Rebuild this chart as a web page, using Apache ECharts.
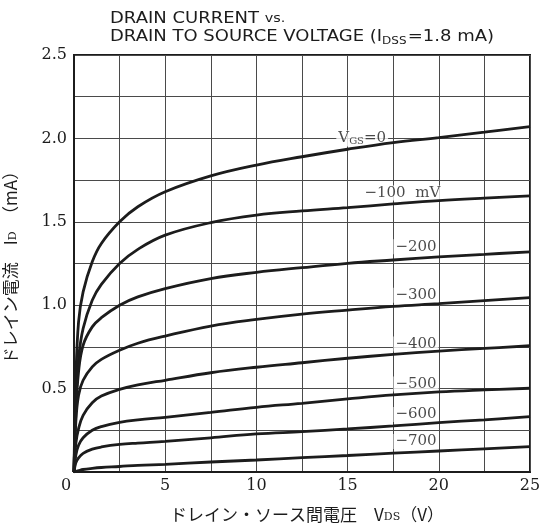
<!DOCTYPE html>
<html>
<head>
<meta charset="utf-8">
<script src="https://cdn.jsdelivr.net/npm/echarts@6/dist/echarts.min.js"></script>
<style>
  html, body { margin: 0; padding: 0; background: #fff; }
  #chart { width: 539px; height: 531px; }
</style>
</head>
<body>
<div id="chart"></div>
<script>
// Drain-source voltage sample points (V)
const vds = [0, 0.1, 0.25, 0.5, 1, 1.5, 2.5, 3.5, 5, 7.5, 10, 12.5, 15, 17.5, 20, 22.5, 25];

// Drain current (mA) for each gate-source voltage
const id_vgs0    = [0, 0.55, 0.9, 1.08, 1.26, 1.37, 1.5, 1.59, 1.68, 1.775, 1.84, 1.89, 1.935, 1.975, 2.005, 2.037, 2.07];
const id_vgs100  = [0, 0.4, 0.68, 0.86, 1.03, 1.125, 1.25, 1.335, 1.42, 1.495, 1.54, 1.565, 1.585, 1.607, 1.627, 1.642, 1.655];
const id_vgs200  = [0, 0.35, 0.6, 0.76, 0.87, 0.925, 1.0, 1.05, 1.1, 1.16, 1.197, 1.225, 1.251, 1.271, 1.29, 1.305, 1.32];
const id_vgs300  = [0, 0.3, 0.46, 0.55, 0.63, 0.675, 0.73, 0.772, 0.815, 0.875, 0.915, 0.947, 0.971, 0.993, 1.009, 1.027, 1.045];
const id_vgs400  = [0, 0.17, 0.26, 0.34, 0.415, 0.455, 0.495, 0.522, 0.55, 0.595, 0.628, 0.655, 0.682, 0.705, 0.725, 0.741, 0.757];
const id_vgs500  = [0, 0.1, 0.16, 0.205, 0.25, 0.272, 0.297, 0.312, 0.328, 0.357, 0.388, 0.412, 0.438, 0.462, 0.48, 0.492, 0.502];
const id_vgs600  = [0, 0.055, 0.085, 0.112, 0.137, 0.15, 0.165, 0.173, 0.183, 0.205, 0.228, 0.242, 0.258, 0.276, 0.296, 0.313, 0.332];
const id_vgs700  = [0, 0.003, 0.008, 0.015, 0.022, 0.027, 0.033, 0.04, 0.046, 0.06, 0.072, 0.086, 0.099, 0.113, 0.126, 0.139, 0.152];

const curveNames = ['0', '-100', '-200', '-300', '-400', '-500', '-600', '-700'];
const curveLabels = ['{v|V}{s|GS}{v|=0}', '−100  mV', '−200', '−300', '−400', '−500', '−600', '−700'];
const curves = [id_vgs0, id_vgs100, id_vgs200, id_vgs300, id_vgs400, id_vgs500, id_vgs600, id_vgs700];

// Axis ticks
const xTicks = [0, 5, 10, 15, 20, 25];
const yTicks = [0.5, 1.0, 1.5, 2.0, 2.5];

// Where each curve's label text sits (data units)
const labelAnchors = [[15.8, 2.0], [18.0, 1.672], [18.75, 1.35], [18.75, 1.06], [18.75, 0.768], [18.75, 0.527], [18.75, 0.345], [18.75, 0.183]];

const ink = '#1c1c1c';
const serif = '"DejaVu Serif", "Liberation Serif", serif';
const sans = '"DejaVu Sans", "Liberation Sans", sans-serif';
const jp = '"Noto Sans CJK JP", sans-serif';

const chart = echarts.init(document.getElementById('chart'), null, { renderer: 'canvas' });

const curveSeries = curves.map((vals, i) => ({
  name: curveNames[i],
  type: 'line',
  data: vds.map((v, k) => [v, vals[k]]),
  smooth: 0.4,
  showSymbol: false,
  symbol: 'none',
  lineStyle: { color: ink, width: 2.8 },
  z: 4
}));

// Curve captions: white boxes that mask the grid but sit beneath the curves
const captionSeries = {
  type: 'scatter',
  silent: true,
  symbolSize: 0,
  z: 3,
  data: labelAnchors.map((c, i) => ({ value: c, caption: curveLabels[i] })),
  label: {
    show: true,
    position: 'inside',
    formatter: p => p.data.caption,
    color: ink,
    fontFamily: serif,
    fontSize: 15,
    backgroundColor: '#fff',
    padding: [0, 2, 0, 2],
    rich: {
      v: { fontFamily: serif, fontSize: 15, color: ink },
      s: { fontFamily: serif, fontSize: 10, color: ink, verticalAlign: 'bottom', padding: [6, 0, 0, 0] }
    }
  }
};

chart.setOption({
  animation: false,
  backgroundColor: '#fff',
  graphic: [{
    type: 'text',
    x: 110,
    y: 10,
    scaleX: 1.2,
    style: {
      text: 'DRAIN CURRENT {small|vs.}\nDRAIN TO SOURCE VOLTAGE (I{sub|DSS}=1.8 mA)',
      fontFamily: sans,
      fontSize: 15,
      fill: ink,
      lineHeight: 18,
      rich: {
        small: { fontFamily: sans, fontSize: 12, fill: ink, lineHeight: 18 },
        sub: { fontFamily: sans, fontSize: 10, fill: ink, verticalAlign: 'bottom', padding: [6, 1, 0, 0], lineHeight: 18 }
      }
    }
  }],
  grid: {
    left: 74, right: 9, top: 55, bottom: 59,
    outerBoundsMode: 'none',
    containLabel: false,
    show: true,
    borderColor: ink,
    borderWidth: 2
  },
  xAxis: {
    type: 'value',
    min: 0, max: 25, interval: 2.5,
    name: 'ドレイン・ソース間電圧　V{sub|DS}（V）',
    nameLocation: 'middle',
    nameGap: 34,
    nameTextStyle: {
      fontFamily: jp,
      fontSize: 17,
      color: ink,
      padding: [0, 0, 0, 10],
      rich: {
        sub: { fontFamily: serif, fontSize: 11, color: ink, verticalAlign: 'bottom', padding: [6, 0, 0, 0] }
      }
    },
    axisLine: { show: true, lineStyle: { color: ink, width: 2 } },
    axisTick: { show: false },
    axisLabel: {
      fontFamily: serif,
      fontSize: 16,
      color: ink,
      margin: 6,
      formatter: v => xTicks.includes(v) ? (v === 0 ? '{z|0}' : String(v)) : '',
      rich: { z: { fontFamily: serif, fontSize: 16, color: ink, padding: [0, 16, 0, 0] } }
    },
    splitLine: { show: true, lineStyle: { color: '#4a4a4a', width: 1 } }
  },
  yAxis: {
    type: 'value',
    min: 0, max: 2.5, interval: 0.25,
    name: 'ドレイン電流　I{sub|D}　（mA）',
    nameLocation: 'middle',
    nameGap: 55,
    nameRotate: 90,
    nameTextStyle: {
      fontFamily: jp,
      fontSize: 17,
      color: ink,
      rich: {
        sub: { fontFamily: serif, fontSize: 11, color: ink, verticalAlign: 'bottom', padding: [6, 0, 0, 0] }
      }
    },
    axisLine: { show: true, lineStyle: { color: ink, width: 2 } },
    axisTick: { show: false },
    axisLabel: {
      fontFamily: serif,
      fontSize: 16,
      color: ink,
      margin: 7,
      formatter: v => yTicks.some(t => Math.abs(t - v) < 1e-9) ? v.toFixed(1) : ''
    },
    splitLine: { show: true, lineStyle: { color: '#4a4a4a', width: 1 } }
  },
  series: curveSeries.concat([captionSeries])
});
</script>
</body>
</html>
